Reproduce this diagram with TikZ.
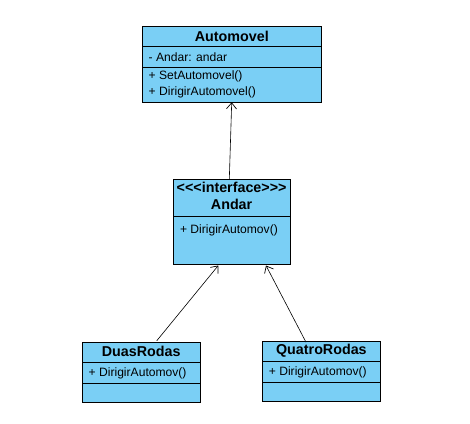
\documentclass[tikz,border=0pt]{standalone}
\usepackage{fontspec}
\setmainfont{Liberation Sans}
\usetikzlibrary{arrows.meta,calc}
\definecolor{umlblue}{RGB}{122,207,245}
\begin{document}
\begin{tikzpicture}[x=1pt,y=-1pt,
  cls/.style={draw=black,fill=umlblue,line width=0.9pt,anchor=north west,inner sep=0pt,outer sep=0pt},
  ttl/.style={font=\bfseries\fontsize{14.3}{16}\selectfont,inner sep=0pt},
  mem/.style={font=\fontsize{12.1}{14}\selectfont,inner sep=0pt,anchor=west},
  div/.style={line width=0.9pt},
  rel/.style={line width=0.6pt,-{Straight Barb[length=6pt,width=10pt,line width=0.7pt]}}]
\fill[white] (0,0) rectangle (470,423);
\useasboundingbox (0,0) rectangle (470,423);
% Automovel
\node[cls,minimum width=179pt,minimum height=75.6pt] (auto) at (142.3,26.7) {};
\draw[div] (142.3,46.7) -- (321.3,46.7);
\draw[div] (142.3,67.3) -- (321.3,67.3);
\node[ttl] (autoT) at (231.8,36.3) {Automovel};
\node[mem] (autoA) at (148.5,57.2) {- Andar: andar};
\node[mem] (autoM1) at (148.5,76.3) {+ SetAutomovel()};
\node[mem] (autoM2) at (148.5,92.6) {+ DirigirAutomovel()};
% Andar
\node[cls,minimum width=116.7pt,minimum height=84.7pt] (andar) at (173.3,179.3) {};
\draw[div] (173.3,216.7) -- (290,216.7);
\node[ttl] (andarS) at (231.6,187.2) {<{}<{}<interface>{}>{}>};
\node[ttl] (andarT) at (231.6,204.6) {Andar};
\node[mem] (andarM) at (179.8,230.8) {+ DirigirAutomov()};
% DuasRodas
\node[cls,minimum width=117.7pt,minimum height=60pt] (duas) at (82.3,342.3) {};
\draw[div] (82.3,362.3) -- (200,362.3);
\draw[div] (82.3,383.3) -- (200,383.3);
\node[ttl] (duasT) at (141.2,351.6) {DuasRodas};
\node[mem] (duasM) at (88.5,373.5) {+ DirigirAutomov()};
% QuatroRodas
\node[cls,minimum width=117.3pt,minimum height=59.3pt] (quatro) at (262.7,341.7) {};
\draw[div] (262.7,361.7) -- (380,361.7);
\draw[div] (262.7,382.3) -- (380,382.3);
\node[ttl] (quatroT) at (321.4,350.8) {QuatroRodas};
\node[mem] (quatroM) at (268.7,372.6) {+ DirigirAutomov()};
% relations
\draw[rel] ($(andar.north west)+(56,0)$) -- ($(auto.south west)+(89.4,0)$);
\draw[rel] ($(duas.north west)+(74.4,-1.5)$) -- ($(andar.south west)+(45,1.5)$);
\draw[rel] ($(quatro.north west)+(43.3,0.5)$) -- ($(andar.south west)+(92.7,1.5)$);
\end{tikzpicture}
\end{document}
